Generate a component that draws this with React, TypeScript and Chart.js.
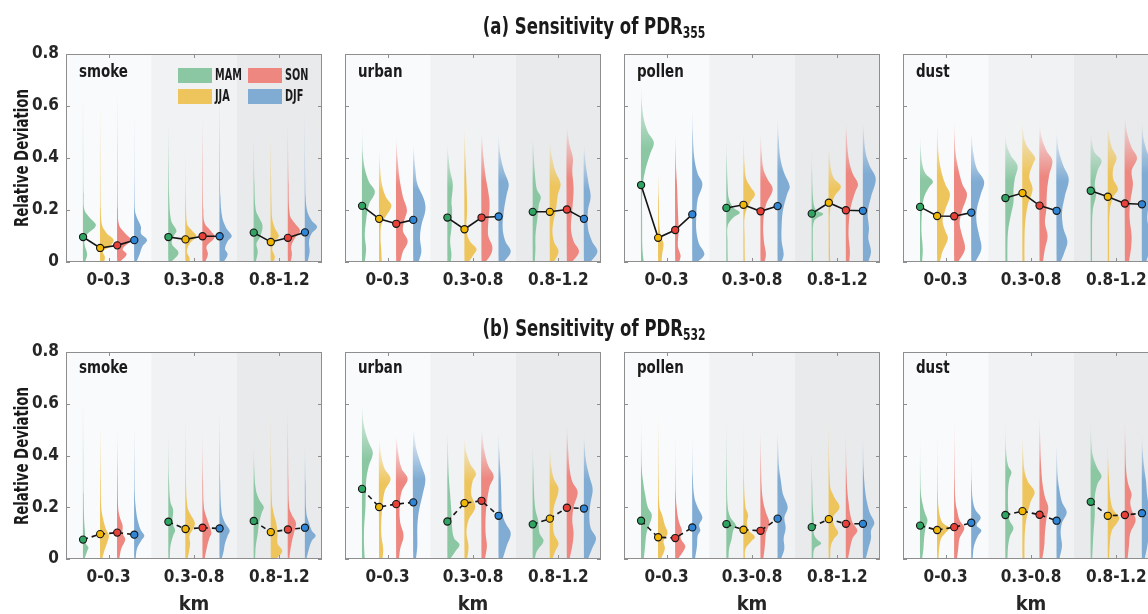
import React, { useEffect, useRef } from 'react';
import { Chart, registerables } from 'chart.js';

Chart.register(...registerables);

const FONT = "'Liberation Sans Narrow', 'DejaVu Sans Condensed', 'Arial Narrow', sans-serif";

const seasons = ['MAM', 'JJA', 'SON', 'DJF'];
const heightBins = ['0-0.3', '0.3-0.8', '0.8-1.2'];
const yTicks = [0, 0.2, 0.4, 0.6, 0.8];
const aerosols = ['smoke', 'urban', 'pollen', 'dust'];
const rowTitles = ['355', '532'];

const fillColors = ['#8ac7a2', '#eec55c', '#ed8780', '#80acd4'];
const markerColors = ['#2fa463', '#f2b705', '#e8413a', '#2f86d6'];
const groupShades = ['#f9fafc', '#f1f2f4', '#e9eaec'];

// mean relative deviation, order: [0-0.3: MAM JJA SON DJF, 0.3-0.8: ..., 0.8-1.2: ...]
const smokeMean355 = [0.096, 0.054, 0.064, 0.084, 0.096, 0.087, 0.099, 0.099, 0.113, 0.077, 0.093, 0.114];
const urbanMean355 = [0.216, 0.166, 0.147, 0.162, 0.171, 0.126, 0.171, 0.175, 0.193, 0.193, 0.202, 0.166];
const pollenMean355 = [0.296, 0.093, 0.123, 0.183, 0.208, 0.22, 0.195, 0.215, 0.186, 0.228, 0.199, 0.197];
const dustMean355 = [0.212, 0.177, 0.176, 0.19, 0.246, 0.265, 0.217, 0.197, 0.274, 0.251, 0.225, 0.222];
const smokeMean532 = [0.075, 0.096, 0.102, 0.094, 0.144, 0.116, 0.121, 0.118, 0.147, 0.104, 0.114, 0.121];
const urbanMean532 = [0.271, 0.201, 0.212, 0.219, 0.145, 0.216, 0.225, 0.167, 0.134, 0.156, 0.198, 0.195];
const pollenMean532 = [0.148, 0.084, 0.081, 0.122, 0.135, 0.113, 0.109, 0.156, 0.123, 0.154, 0.136, 0.136];
const dustMean532 = [0.129, 0.112, 0.123, 0.14, 0.17, 0.185, 0.171, 0.148, 0.221, 0.167, 0.17, 0.177];

// density profiles: [relative deviation, density] pairs, same order as means
const smokeDensity355 = [
  [[0, 1.5], [0.03, 3], [0.07, 1], [0.1, 2], [0.14, 9.5], [0.17, 5], [0.2, 1], [0.26, 0.4], [0.68, 0]],
  [[0, 3], [0.02, 3.5], [0.04, 2], [0.06, 7], [0.085, 10], [0.11, 5], [0.14, 1.5], [0.2, 0.5], [0.66, 0]],
  [[0, 2], [0.03, 7], [0.05, 4], [0.085, 10], [0.11, 6], [0.14, 1.5], [0.2, 0.5], [0.68, 0]],
  [[0, 1.5], [0.03, 4], [0.06, 6], [0.085, 9.5], [0.11, 5], [0.135, 5], [0.17, 2], [0.2, 0.5], [0.62, 0]],
  [[0, 2], [0.035, 7.5], [0.07, 2.5], [0.1, 4], [0.12, 6], [0.16, 2], [0.25, 0.6], [0.55, 0]],
  [[0, 3], [0.015, 3], [0.04, 1], [0.07, 3], [0.1, 8], [0.12, 5], [0.15, 1], [0.6, 0]],
  [[0, 2], [0.03, 4], [0.06, 3], [0.095, 9], [0.12, 6], [0.15, 1.5], [0.2, 0.6], [0.58, 0]],
  [[0, 3], [0.03, 6], [0.05, 4], [0.08, 6], [0.1, 9], [0.13, 5], [0.17, 2], [0.25, 0.6], [0.7, 0]],
  [[0, 1.5], [0.04, 3], [0.07, 2], [0.1, 5], [0.14, 6.5], [0.17, 4], [0.2, 1.5], [0.3, 0.5], [0.5, 0]],
  [[0, 2], [0.02, 3], [0.05, 1], [0.08, 3], [0.1, 6], [0.13, 3], [0.17, 1], [0.5, 0]],
  [[0, 2], [0.03, 3], [0.06, 2.5], [0.09, 5], [0.12, 9], [0.15, 5], [0.18, 1.5], [0.3, 0.5], [0.55, 0]],
  [[0, 2], [0.04, 3.5], [0.08, 3], [0.11, 5], [0.135, 9], [0.16, 5], [0.19, 2], [0.25, 0.5], [0.6, 0]],
];
const urbanDensity355 = [
  [[0, 2], [0.05, 3], [0.1, 2], [0.16, 3], [0.22, 5], [0.27, 9.5], [0.31, 5], [0.36, 2], [0.42, 0.5], [0.55, 0]],
  [[0, 2], [0.05, 1.5], [0.1, 1], [0.15, 2], [0.2, 8], [0.22, 9], [0.25, 5], [0.3, 2], [0.36, 0.8], [0.44, 0]],
  [[0, 3], [0.04, 5], [0.08, 8.5], [0.12, 5], [0.16, 6], [0.2, 8], [0.25, 5], [0.32, 2.5], [0.4, 1], [0.48, 0]],
  [[0, 4], [0.04, 6], [0.09, 5], [0.14, 6], [0.2, 9], [0.24, 8], [0.3, 3], [0.36, 1.5], [0.45, 0]],
  [[0, 2.5], [0.03, 3], [0.08, 2], [0.13, 3], [0.2, 3.5], [0.23, 3], [0.3, 4], [0.35, 2], [0.42, 0.5], [0.46, 0]],
  [[0, 3], [0.03, 7], [0.05, 9], [0.08, 4], [0.12, 1.5], [0.2, 2], [0.3, 1.5], [0.4, 0.8], [0.52, 0]],
  [[0, 3], [0.03, 7], [0.06, 8], [0.1, 5], [0.15, 5], [0.22, 6], [0.27, 5], [0.33, 3], [0.4, 1.5], [0.5, 0]],
  [[0, 4], [0.04, 9], [0.08, 5], [0.13, 3], [0.2, 4], [0.26, 6], [0.3, 7.5], [0.35, 4], [0.42, 1], [0.5, 0]],
  [[0, 1.5], [0.05, 2], [0.1, 2], [0.17, 3.5], [0.22, 4.5], [0.25, 6], [0.28, 3], [0.35, 1.5], [0.45, 0.3], [0.5, 0]],
  [[0, 3], [0.04, 6.5], [0.08, 3], [0.13, 2], [0.2, 4.5], [0.26, 6], [0.3, 8], [0.35, 4], [0.42, 1], [0.47, 0]],
  [[0, 4], [0.04, 9], [0.08, 5], [0.13, 3], [0.2, 4], [0.28, 5], [0.35, 4], [0.4, 4.5], [0.45, 2], [0.52, 0]],
  [[0, 5], [0.04, 10], [0.08, 6], [0.13, 3], [0.2, 3], [0.25, 5], [0.3, 3.5], [0.37, 1.5], [0.45, 0]],
];
const pollenDensity355 = [
  [[0, 2], [0.05, 1], [0.15, 0.8], [0.28, 1], [0.35, 3], [0.42, 7], [0.46, 9.5], [0.5, 5], [0.55, 2], [0.62, 0.5], [0.7, 0]],
  [[0, 2.5], [0.03, 3], [0.07, 4], [0.1, 2], [0.15, 0.8], [0.25, 0.5], [0.36, 0]],
  [[0, 3], [0.025, 4], [0.06, 2], [0.12, 2.5], [0.2, 2], [0.28, 1.5], [0.35, 0.8], [0.5, 0]],
  [[0, 4], [0.03, 9], [0.07, 5], [0.12, 3], [0.18, 3], [0.24, 4], [0.3, 7.5], [0.34, 4], [0.4, 1.5], [0.5, 0.4], [0.62, 0]],
  [[0, 1], [0.08, 0.8], [0.14, 1], [0.17, 5], [0.19, 10], [0.21, 5], [0.24, 2], [0.28, 1], [0.4, 0.3], [0.5, 0]],
  [[0, 1], [0.1, 0.8], [0.18, 1], [0.23, 5], [0.26, 8.5], [0.29, 5], [0.32, 2], [0.38, 0.8], [0.5, 0]],
  [[0, 3], [0.03, 4], [0.08, 2.5], [0.15, 2], [0.22, 4], [0.28, 9], [0.32, 5], [0.36, 2], [0.42, 0.8], [0.5, 0]],
  [[0, 3], [0.03, 4.5], [0.08, 3], [0.14, 3], [0.2, 4], [0.26, 7], [0.29, 9], [0.34, 5], [0.4, 2], [0.48, 0.8], [0.56, 0]],
  [[0, 1], [0.1, 0.8], [0.16, 2], [0.185, 8.5], [0.2, 3], [0.24, 1], [0.35, 0.3], [0.45, 0]],
  [[0, 1], [0.1, 0.8], [0.2, 1], [0.25, 4], [0.29, 9], [0.32, 4], [0.36, 1.5], [0.45, 0]],
  [[0, 2.5], [0.04, 3], [0.1, 2], [0.17, 2.5], [0.22, 4], [0.27, 7], [0.3, 9], [0.34, 5], [0.4, 2], [0.5, 0.5], [0.55, 0]],
  [[0, 4], [0.04, 6], [0.09, 4], [0.13, 4.5], [0.19, 3.5], [0.25, 6], [0.32, 9.5], [0.37, 5], [0.42, 2], [0.5, 0.5], [0.55, 0]],
];
const dustDensity355 = [
  [[0, 1.5], [0.05, 2], [0.12, 1], [0.2, 1.5], [0.25, 3], [0.29, 7], [0.31, 9.5], [0.34, 4], [0.38, 1.5], [0.45, 0.3], [0.5, 0]],
  [[0, 2], [0.04, 4], [0.09, 8], [0.12, 6], [0.16, 4], [0.2, 6], [0.26, 9.5], [0.3, 6], [0.35, 3], [0.42, 1], [0.55, 0]],
  [[0, 3], [0.05, 8], [0.1, 6], [0.15, 4], [0.2, 6], [0.26, 9.5], [0.3, 6], [0.36, 3], [0.42, 1], [0.55, 0]],
  [[0, 3], [0.05, 7.5], [0.1, 6], [0.15, 4], [0.2, 4], [0.26, 7], [0.31, 9.5], [0.36, 4], [0.42, 1.5], [0.5, 0]],
  [[0, 1.5], [0.06, 1.5], [0.12, 2], [0.18, 4], [0.23, 6], [0.28, 6], [0.32, 7], [0.37, 9], [0.41, 4], [0.45, 1], [0.5, 0]],
  [[0, 1.5], [0.08, 1.5], [0.15, 2], [0.22, 4], [0.28, 7.5], [0.33, 5], [0.38, 8], [0.4, 9.5], [0.44, 4], [0.48, 1], [0.55, 0]],
  [[0, 2.5], [0.05, 4], [0.1, 6], [0.15, 4], [0.2, 5], [0.27, 5.5], [0.33, 7], [0.39, 9.5], [0.43, 5], [0.48, 1.5], [0.53, 0]],
  [[0, 3], [0.04, 6], [0.08, 8], [0.13, 5], [0.19, 4], [0.25, 6], [0.32, 9], [0.37, 5], [0.43, 1.5], [0.5, 0]],
  [[0, 1], [0.1, 1], [0.2, 1.5], [0.26, 4], [0.3, 3], [0.35, 5], [0.39, 8], [0.42, 3], [0.46, 1], [0.5, 0]],
  [[0, 1], [0.1, 1], [0.2, 1.5], [0.25, 4], [0.28, 7.5], [0.32, 4], [0.36, 4], [0.4, 6.5], [0.44, 3], [0.5, 0.5], [0.55, 0]],
  [[0, 3], [0.05, 4.5], [0.1, 5], [0.17, 3.5], [0.23, 4], [0.3, 6], [0.35, 5], [0.4, 9], [0.44, 5], [0.5, 1.5], [0.56, 0]],
  [[0, 3], [0.05, 6], [0.1, 7], [0.16, 4], [0.22, 5], [0.3, 7], [0.36, 8], [0.42, 4], [0.48, 1], [0.55, 0]],
];
const smokeDensity532 = [
  [[0, 1], [0.03, 3], [0.045, 4], [0.06, 2], [0.1, 1.5], [0.15, 0.8], [0.25, 0.4], [0.65, 0]],
  [[0, 1.5], [0.03, 3], [0.06, 5], [0.09, 6.5], [0.12, 4], [0.16, 2], [0.2, 0.8], [0.3, 0.4], [0.55, 0]],
  [[0, 1.5], [0.04, 3], [0.075, 6], [0.1, 4], [0.13, 4], [0.16, 2], [0.2, 0.7], [0.5, 0]],
  [[0, 1], [0.04, 2], [0.07, 5], [0.09, 7.5], [0.11, 5], [0.14, 3], [0.18, 1.5], [0.25, 0.4], [0.55, 0]],
  [[0, 1], [0.05, 1.5], [0.09, 3.5], [0.11, 5], [0.14, 3], [0.19, 3.5], [0.22, 1.5], [0.3, 0.5], [0.5, 0]],
  [[0, 1.5], [0.04, 3], [0.06, 3.5], [0.09, 3], [0.12, 6], [0.14, 7], [0.17, 4], [0.2, 1.5], [0.3, 0.4], [0.6, 0]],
  [[0, 1.5], [0.04, 3], [0.08, 5], [0.1, 6.5], [0.13, 5], [0.16, 3], [0.2, 1], [0.3, 0.4], [0.5, 0]],
  [[0, 1.5], [0.03, 3], [0.06, 4], [0.09, 6], [0.11, 7.5], [0.14, 4], [0.18, 1.5], [0.3, 0.4], [0.6, 0]],
  [[0, 1], [0.05, 1.5], [0.1, 3], [0.14, 4], [0.18, 6], [0.2, 7.5], [0.23, 4], [0.27, 1.5], [0.35, 0.5], [0.45, 0]],
  [[0, 4], [0.03, 8.5], [0.06, 5], [0.1, 5], [0.14, 4], [0.18, 2], [0.22, 0.8], [0.35, 0.3], [0.6, 0]],
  [[0, 1], [0.04, 2], [0.08, 3.5], [0.11, 5], [0.14, 6], [0.17, 3], [0.2, 1], [0.3, 0.4], [0.6, 0]],
  [[0, 1], [0.04, 3], [0.07, 5], [0.09, 8], [0.11, 5], [0.14, 3], [0.18, 1], [0.3, 0.4], [0.45, 0]],
];
const urbanDensity532 = [
  [[0, 2], [0.05, 1.5], [0.12, 1.5], [0.2, 2.5], [0.3, 3], [0.36, 5], [0.41, 8], [0.45, 5], [0.5, 2], [0.55, 0.5], [0.62, 0]],
  [[0, 2.5], [0.04, 3], [0.1, 1.5], [0.18, 2], [0.26, 4], [0.31, 8.5], [0.35, 4], [0.4, 1.5], [0.47, 0]],
  [[0, 2], [0.04, 3], [0.09, 5.5], [0.14, 3], [0.2, 2.5], [0.26, 4], [0.31, 8.5], [0.35, 4], [0.41, 1.5], [0.48, 0]],
  [[0, 2], [0.05, 3], [0.12, 3], [0.18, 4], [0.25, 7], [0.31, 9], [0.36, 6], [0.42, 2.5], [0.5, 0]],
  [[0, 2], [0.03, 6], [0.055, 9], [0.08, 5], [0.12, 3.5], [0.18, 3], [0.25, 2], [0.32, 1], [0.45, 0.3], [0.5, 0]],
  [[0, 2], [0.05, 3], [0.1, 1.5], [0.15, 3], [0.2, 8], [0.25, 5], [0.3, 6], [0.33, 8.5], [0.37, 4], [0.42, 1], [0.48, 0]],
  [[0, 2.5], [0.05, 4], [0.1, 3], [0.16, 3], [0.22, 4], [0.28, 6], [0.32, 9], [0.36, 5], [0.42, 2], [0.5, 0]],
  [[0, 3], [0.05, 6], [0.1, 9], [0.14, 5], [0.18, 2.5], [0.25, 2], [0.32, 1.5], [0.42, 0.5], [0.5, 0]],
  [[0, 1.5], [0.03, 3], [0.07, 8], [0.1, 5], [0.15, 4], [0.19, 2], [0.25, 1], [0.35, 0.5], [0.45, 0]],
  [[0, 2], [0.03, 4], [0.06, 6.5], [0.1, 3], [0.15, 2.5], [0.2, 3], [0.27, 6.5], [0.31, 3], [0.36, 1], [0.45, 0]],
  [[0, 2], [0.05, 4], [0.1, 5], [0.15, 4], [0.2, 5], [0.26, 8], [0.3, 4], [0.35, 2], [0.42, 1], [0.52, 0]],
  [[0, 3], [0.04, 6], [0.08, 9], [0.12, 5], [0.17, 4], [0.22, 5], [0.27, 6.5], [0.32, 4], [0.38, 1.5], [0.45, 0.3], [0.5, 0]],
];
const pollenDensity532 = [
  [[0, 2], [0.05, 3], [0.1, 4], [0.13, 6], [0.17, 8], [0.2, 5], [0.25, 3], [0.3, 1.5], [0.35, 0.5], [0.58, 0]],
  [[0, 2], [0.04, 5], [0.07, 4], [0.1, 7], [0.13, 5], [0.17, 3], [0.2, 1], [0.3, 0.4], [0.58, 0]],
  [[0, 2], [0.03, 6], [0.05, 7.5], [0.08, 4], [0.11, 5], [0.14, 3], [0.18, 1.5], [0.25, 0.4], [0.5, 0]],
  [[0, 2], [0.05, 3.5], [0.09, 4], [0.11, 6], [0.13, 5], [0.16, 7.5], [0.2, 4], [0.24, 1.5], [0.32, 0.4], [0.5, 0]],
  [[0, 1.5], [0.04, 2], [0.08, 4], [0.11, 5], [0.13, 7], [0.16, 3], [0.2, 1], [0.3, 0.4], [0.55, 0]],
  [[0, 1], [0.04, 1.5], [0.07, 6], [0.085, 8.5], [0.11, 4], [0.14, 2.5], [0.17, 3.5], [0.2, 1.5], [0.3, 0.4], [0.55, 0]],
  [[0, 2], [0.04, 3], [0.07, 3.5], [0.1, 4], [0.14, 6.5], [0.18, 4], [0.22, 2], [0.28, 0.8], [0.5, 0]],
  [[0, 2.5], [0.04, 5], [0.08, 4.5], [0.12, 6], [0.16, 5], [0.2, 7.5], [0.25, 4], [0.3, 2.5], [0.36, 1], [0.5, 0]],
  [[0, 1], [0.04, 2], [0.06, 7], [0.075, 4], [0.1, 1.5], [0.15, 1.5], [0.2, 0.8], [0.3, 0.3], [0.45, 0]],
  [[0, 1], [0.05, 1.5], [0.08, 4], [0.1, 7], [0.13, 4], [0.16, 3], [0.2, 8], [0.24, 4], [0.28, 1], [0.55, 0]],
  [[0, 1.5], [0.04, 3], [0.08, 5], [0.11, 8.5], [0.14, 5], [0.18, 3], [0.22, 2], [0.27, 1], [0.35, 0.4], [0.5, 0]],
  [[0, 2], [0.04, 4], [0.08, 6], [0.11, 6], [0.14, 8.5], [0.18, 5], [0.22, 3], [0.27, 1.5], [0.35, 0.5], [0.5, 0]],
];
const dustDensity532 = [
  [[0, 1.5], [0.04, 2.5], [0.08, 3], [0.12, 4], [0.15, 5.5], [0.18, 3.5], [0.21, 2], [0.26, 0.5], [0.5, 0]],
  [[0, 1], [0.04, 1.5], [0.08, 3], [0.1, 6], [0.12, 9], [0.14, 4], [0.18, 1.5], [0.25, 0.5], [0.5, 0]],
  [[0, 2], [0.04, 3], [0.08, 4], [0.12, 7.5], [0.15, 4], [0.18, 2.5], [0.22, 1], [0.3, 0.4], [0.55, 0]],
  [[0, 1], [0.05, 2], [0.09, 5], [0.11, 7.5], [0.13, 4], [0.16, 7], [0.19, 3], [0.23, 1], [0.3, 0.3], [0.45, 0]],
  [[0, 1.5], [0.05, 2], [0.09, 3.5], [0.12, 6], [0.15, 3], [0.2, 2], [0.27, 2], [0.31, 3], [0.335, 4.5], [0.36, 2], [0.42, 0.5], [0.55, 0]],
  [[0, 1.5], [0.06, 1.5], [0.12, 2], [0.17, 3.5], [0.22, 6], [0.26, 9], [0.3, 4], [0.34, 1.5], [0.42, 0.4], [0.5, 0]],
  [[0, 2], [0.05, 3.5], [0.1, 4], [0.15, 5], [0.2, 6.5], [0.24, 4], [0.3, 2], [0.38, 1], [0.48, 0.4], [0.56, 0]],
  [[0, 2], [0.05, 4], [0.1, 3], [0.14, 4], [0.18, 7.5], [0.22, 4], [0.27, 2], [0.32, 0.8], [0.45, 0]],
  [[0, 1], [0.05, 1.5], [0.1, 2], [0.17, 3], [0.24, 3], [0.29, 5], [0.32, 8], [0.35, 5], [0.4, 1.5], [0.45, 0.5], [0.55, 0]],
  [[0, 1], [0.06, 1.5], [0.11, 3], [0.14, 7], [0.16, 8.5], [0.19, 4], [0.23, 2], [0.3, 1], [0.38, 0.3], [0.5, 0]],
  [[0, 2], [0.05, 3], [0.1, 4], [0.15, 8], [0.19, 5], [0.22, 4], [0.25, 5], [0.29, 2.5], [0.34, 1], [0.45, 0.4], [0.55, 0]],
  [[0, 2], [0.05, 4], [0.1, 5], [0.14, 5], [0.18, 6], [0.24, 4], [0.3, 3], [0.36, 1.5], [0.42, 0.5], [0.5, 0]],
];

const panelMeans = [
  [smokeMean355, urbanMean355, pollenMean355, dustMean355],
  [smokeMean532, urbanMean532, pollenMean532, dustMean532],
];
const panelDensity = [
  [smokeDensity355, urbanDensity355, pollenDensity355, dustDensity355],
  [smokeDensity532, urbanDensity532, pollenDensity532, dustDensity532],
];

// layout (pixels)
const PANEL_LEFT = [66, 345, 624, 903];
const ROW_TOP = [54, 352];
const ROW_H = [208, 207];
const PANEL_W = 256;
const YW = 60;
const PT = 20;
const PR = 10;
const SEASON_OFFSET = [-0.3, -0.1, 0.1, 0.3];
const DENS_SCALE = 0.0158;

function rgba(hex: string, a: number) {
  const n = parseInt(hex.slice(1), 16);
  return `rgba(${(n >> 16) & 255},${(n >> 8) & 255},${n & 255},${a})`;
}

const framePlugin = {
  id: 'frame',
  beforeDatasetsDraw(chart: any) {
    const { ctx, chartArea: a, scales } = chart;
    const x = scales.x;
    ctx.save();
    groupShades.forEach((c, i) => {
      const l = x.getPixelForValue(i + 0.5);
      const r = x.getPixelForValue(i + 1.5);
      ctx.fillStyle = c;
      ctx.fillRect(l, a.top, r - l, a.bottom - a.top);
    });
    ctx.restore();
  },
  afterDatasetsDraw(chart: any) {
    const { ctx, chartArea: a, scales } = chart;
    const x = scales.x;
    const y = scales.y;
    ctx.save();
    ctx.strokeStyle = '#8e8e8e';
    ctx.lineWidth = 1;
    ctx.strokeRect(a.left + 0.5, a.top + 0.5, a.right - a.left - 1, a.bottom - a.top - 1);
    ctx.beginPath();
    const T = 4;
    heightBins.forEach((_, i) => {
      const px = Math.round(x.getPixelForValue(i + 1)) + 0.5;
      ctx.moveTo(px, a.bottom);
      ctx.lineTo(px, a.bottom - T);
      ctx.moveTo(px, a.top);
      ctx.lineTo(px, a.top + T);
    });
    yTicks.forEach((v) => {
      const py = Math.round(y.getPixelForValue(v)) + 0.5;
      ctx.moveTo(a.left, py);
      ctx.lineTo(a.left + T, py);
      ctx.moveTo(a.right, py);
      ctx.lineTo(a.right - T, py);
    });
    ctx.stroke();
    ctx.restore();
  },
};

function Panel({ row, col }: { row: number; col: number }) {
  const ref = useRef<HTMLCanvasElement>(null);
  const isLeft = col === 0;
  const isBottom = row === 1;
  const XH = isBottom ? 61 : 40;
  const width = YW + PANEL_W + PR;
  const height = PT + ROW_H[row] + XH;

  useEffect(() => {
    const means = panelMeans[row][col];
    const density = panelDensity[row][col];
    const datasets: any[] = [];

    const meanData: any[] = [];
    const meanColors: string[] = [];
    heightBins.forEach((_, g) => {
      seasons.forEach((__, s) => {
        meanData.push({ x: g + 1 + SEASON_OFFSET[s], y: means[g * 4 + s] });
        meanColors.push(markerColors[s]);
      });
      if (g < heightBins.length - 1) {
        meanData.push({ x: g + 1.5, y: null });
        meanColors.push('#000');
      }
    });
    datasets.push({
      label: 'mean',
      data: meanData,
      order: 0,
      borderColor: '#151515',
      borderWidth: 1.6,
      borderDash: isBottom ? [5, 4] : [],
      pointRadius: 3.6,
      pointBorderWidth: 1.1,
      pointBorderColor: '#151515',
      pointBackgroundColor: meanColors,
      fill: false,
      tension: 0,
      spanGaps: false,
    });

    density.forEach((prof: number[][], i: number) => {
      const g = Math.floor(i / 4);
      const s = i % 4;
      const base = g + 1 + SEASON_OFFSET[s];
      const top = prof[prof.length - 1][0];
      const pts = prof.map(([v, d]) => ({ x: base + d * DENS_SCALE, y: v }));
      pts.push({ x: base, y: 0 });
      const color = fillColors[s];
      datasets.push({
        label: `${seasons[s]} ${heightBins[g]}`,
        data: pts,
        order: 1,
        fill: 'shape',
        borderWidth: 0,
        borderColor: 'rgba(0,0,0,0)',
        pointRadius: 0,
        pointHoverRadius: 0,
        tension: 0.35,
        backgroundColor: (ctx: any) => {
          const chart = ctx.chart;
          if (!chart.chartArea || !chart.scales.y) return color;
          const ys = chart.scales.y;
          const y0 = ys.getPixelForValue(0);
          const y1 = ys.getPixelForValue(top);
          const grad = chart.ctx.createLinearGradient(0, y0, 0, y1);
          grad.addColorStop(0, rgba(color, 1));
          grad.addColorStop(0.62, rgba(color, 1));
          grad.addColorStop(0.85, rgba(color, 0.45));
          grad.addColorStop(1, rgba(color, 0));
          return grad;
        },
      });
    });

    const tickFont = { family: FONT, size: 17, weight: 'bold' as const };
    const chart = new Chart(ref.current as HTMLCanvasElement, {
      type: 'line',
      data: { datasets },
      options: {
        animation: false,
        responsive: false,
        events: [],
        layout: { padding: { top: PT, right: PR, left: 0, bottom: 0 } },
        plugins: { legend: { display: false }, tooltip: { enabled: false } },
        scales: {
          x: {
            type: 'linear',
            min: 0.5,
            max: 3.5,
            afterBuildTicks: (s: any) => {
              s.ticks = heightBins.map((_, i) => ({ value: i + 1 }));
            },
            afterFit: (s: any) => {
              s.height = XH;
            },
            ticks: {
              autoSkip: false,
              maxRotation: 0,
              padding: 8,
              color: '#262626',
              font: tickFont,
              callback: (v: any) => heightBins[Math.round(Number(v)) - 1] ?? '',
            },
            grid: { display: false, drawTicks: false },
            border: { display: false },
            title: {
              display: isBottom,
              text: 'km',
              color: '#262626',
              font: { family: FONT, size: 20, weight: 'bold' as const },
              padding: { top: 0, bottom: 3 },
            },
          },
          y: {
            type: 'linear',
            min: 0,
            max: 0.8,
            afterBuildTicks: (s: any) => {
              s.ticks = yTicks.map((v) => ({ value: v }));
            },
            afterFit: (s: any) => {
              s.width = YW;
            },
            ticks: {
              display: isLeft,
              padding: 7,
              color: '#262626',
              font: tickFont,
              callback: (v: any) => String(Number(Number(v).toFixed(1))),
            },
            grid: { display: false, drawTicks: false },
            border: { display: false },
          },
        },
      },
      plugins: [framePlugin],
    });
    return () => chart.destroy();
  }, [row, col]);

  return (
    <canvas
      ref={ref}
      width={width}
      height={height}
      style={{
        position: 'absolute',
        left: PANEL_LEFT[col] - YW,
        top: ROW_TOP[row] - PT,
        width,
        height,
      }}
    />
  );
}

const textBase: React.CSSProperties = {
  position: 'absolute',
  fontFamily: FONT,
  fontWeight: 'bold',
  color: '#1a1a1a',
  whiteSpace: 'nowrap',
};

function Legend() {
  const items = [
    { s: 0, l: 178, t: 68 },
    { s: 2, l: 248, t: 68 },
    { s: 1, l: 178, t: 89 },
    { s: 3, l: 248, t: 89 },
  ];
  return (
    <>
      {items.map(({ s, l, t }) => (
        <React.Fragment key={s}>
          <div style={{ position: 'absolute', left: l, top: t, width: 34, height: 15, background: fillColors[s] }} />
          <div
            style={{
              ...textBase,
              left: l + 37,
              top: t + 0,
              fontSize: 15,
              lineHeight: '15px',
              transform: 'scaleX(0.72)',
              transformOrigin: 'left center',
            }}
          >
            {seasons[s]}
          </div>
        </React.Fragment>
      ))}
    </>
  );
}

export default function App() {
  return (
    <div
      style={{
        position: 'absolute',
        left: 0,
        top: 0,
        width: 1148,
        height: 614,
        overflow: 'hidden',
        background: '#ffffff',
      }}
    >
      {[0, 1].map((row) =>
        aerosols.map((_, col) => <Panel key={`${row}-${col}`} row={row} col={col} />)
      )}
      {[0, 1].map((row) => (
        <div
          key={`t${row}`}
          style={{
            ...textBase,
            left: 0,
            width: 1188,
            textAlign: 'center',
            top: row === 0 ? 15 : 317,
            fontSize: 23,
            lineHeight: '23px',
            transform: 'scaleX(0.8)',
            transformOrigin: '594px 50%',
          }}
        >
          {`(${row === 0 ? 'a' : 'b'}) Sensitivity of PDR`}
          <span style={{ fontSize: 15, position: 'relative', top: 4 }}>{rowTitles[row]}</span>
        </div>
      ))}
      {[0, 1].map((row) => (
        <div
          key={`y${row}`}
          style={{
            ...textBase,
            left: 21,
            top: ROW_TOP[row] + ROW_H[row] / 2,
            fontSize: 20,
            lineHeight: '20px',
            transform: 'translate(-50%, -50%) rotate(-90deg) scaleX(0.74)',
          }}
        >
          Relative Deviation
        </div>
      ))}
      {[0, 1].map((row) =>
        aerosols.map((name, col) => (
          <div
            key={`l${row}-${col}`}
            style={{
              ...textBase,
              left: PANEL_LEFT[col] + 13,
              top: ROW_TOP[row] + (row === 0 ? 8 : 6),
              fontSize: 18,
              lineHeight: '18px',
              transform: 'scaleX(0.83)',
              transformOrigin: 'left center',
            }}
          >
            {name}
          </div>
        ))
      )}
      <Legend />
    </div>
  );
}
